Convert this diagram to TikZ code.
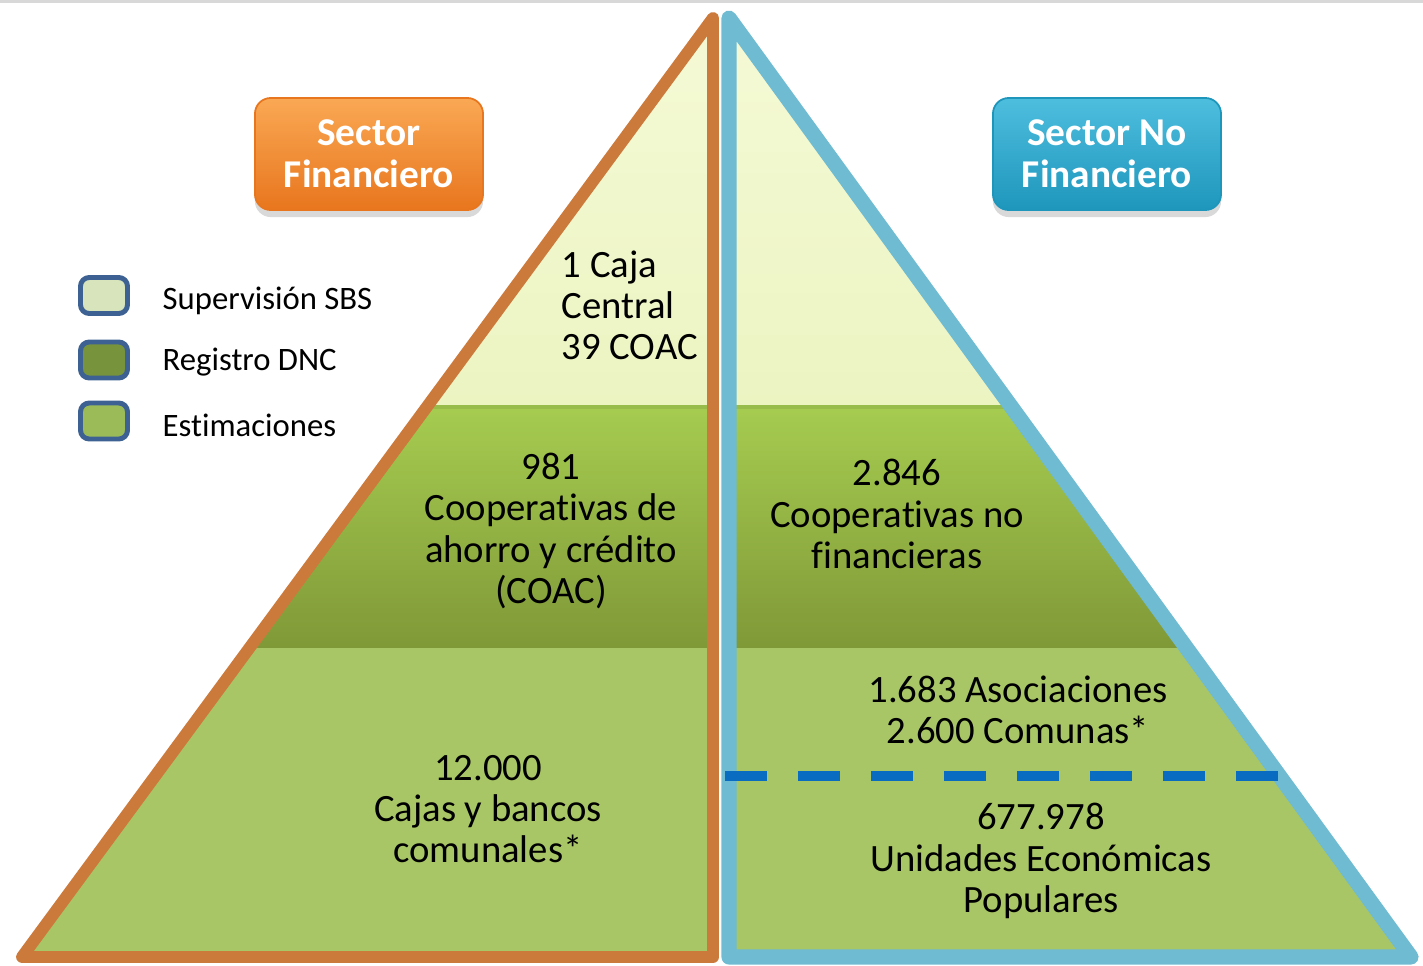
\documentclass[tikz,border=0pt]{standalone}
\usepackage{fontspec}
\setmainfont{Carlito}[Ligatures=CommonOff]
\usetikzlibrary{shadows}

\definecolor{topgray}{RGB}{216,216,216}
\definecolor{finorange}{RGB}{204,122,60}
\definecolor{nofinblue}{RGB}{110,187,210}
\definecolor{layertop}{RGB}{245,250,214}
\definecolor{layertoplo}{RGB}{236,244,194}
\definecolor{layermidtop}{RGB}{166,204,80}
\definecolor{layermidbot}{RGB}{128,153,56}
\definecolor{layerbot}{RGB}{169,198,102}
\definecolor{dashblue}{RGB}{10,108,192}
\definecolor{legendedge}{RGB}{60,97,146}
\definecolor{legendlight}{RGB}{216,228,188}
\definecolor{legenddark}{RGB}{119,147,60}
\definecolor{legendgreen}{RGB}{155,187,89}
\definecolor{orangehi}{RGB}{250,168,84}
\definecolor{orangelo}{RGB}{232,118,30}
\definecolor{bluehi}{RGB}{78,190,222}
\definecolor{bluelo}{RGB}{30,150,188}

\tikzset{
  pyrtext/.style={font=\fontsize{11}{11.7}\selectfont, align=center, inner sep=0pt},
  legtext/.style={font=\fontsize{9.3}{11}\selectfont, anchor=west, inner sep=0pt},
  legbox/.style={draw=legendedge, line width=1.4pt, rounded corners=2.5pt,
    minimum width=0.47cm, minimum height=0.36cm, inner sep=0pt},
  sectorbox/.style={rounded corners=4.5pt, minimum width=2.28cm, minimum height=1.12cm,
    inner sep=0pt, align=center, text=white, line width=0.5pt,
    font=\fontsize{11.2}{11.95}\selectfont\bfseries,
    drop shadow={shadow xshift=0pt, shadow yshift=-2pt, opacity=0.3}}
}

\begin{document}
\begin{tikzpicture}[line cap=round,line join=round,x=0.01cm,y=-0.01cm]
\useasboundingbox (0,0) rectangle (1423,966);
\fill[topgray] (0,0) rectangle (1423,3);
% sector financiero
\coordinate (fa) at (713,18);
\coordinate (fb) at (22,957);
\coordinate (fc) at (713,957);
\begin{scope}
\clip (fa)--(fb)--(fc)--cycle;
\shade[top color=layertop,bottom color=layertoplo] (0,0) rectangle (720,405);
\shade[top color=layermidtop,bottom color=layermidbot] (0,405) rectangle (720,648);
\fill[layerbot] (0,648) rectangle (720,966);
\fill[black,opacity=0.08] (0,405) rectangle (720,409);
\end{scope}
\draw[line width=3.4pt,color=finorange] (fa)--(fb)--(fc)--cycle;
% sector no financiero
\coordinate (na) at (729,18);
\coordinate (nb) at (729,957);
\coordinate (nc) at (1411,957);
\begin{scope}
\clip (na)--(nb)--(nc)--cycle;
\shade[top color=layertop,bottom color=layertoplo] (720,0) rectangle (1423,405);
\shade[top color=layermidtop,bottom color=layermidbot] (720,405) rectangle (1423,648);
\fill[layerbot] (720,648) rectangle (1423,966);
\fill[black,opacity=0.08] (720,405) rectangle (1423,409);
\end{scope}
\draw[line width=4.3pt,color=nofinblue] (na)--(nb)--(nc)--cycle;
\coordinate (dl) at (725,776);
\coordinate (dr) at (1278,776);
\draw[dashblue,line width=2.8pt,line cap=butt,dash pattern=on 11.95pt off 8.82pt] (dl)--(dr);
% sector boxes
\node[sectorbox,draw=orangelo,top color=orangehi,bottom color=orangelo] (fin) at (369,154) {Sector\\Financiero};
\node[sectorbox,draw=bluelo,top color=bluehi,bottom color=bluelo] (nofin) at (1107,154) {Sector No\\Financiero};
% legend
\node[legbox,fill=legendlight] (lsbs) at (104,295.5) {};
\node[legbox,fill=legenddark] (ldnc) at (104,360) {};
\node[legbox,fill=legendgreen] (lest) at (104,421) {};
\node[legtext] (tsbs) at (162,301) {Supervisión SBS};
\node[legtext] (tdnc) at (162,362) {Registro DNC};
\node[legtext] (test) at (162,425) {Estimaciones};
% pyramid texts
\node[pyrtext,align=left,anchor=west] (caja) at (561,305) {1 Caja\\Central\\39 COAC};
\node[pyrtext] (coac) at (551,531) {981\\Cooperativas de\\ahorro y crédito\\(COAC)};
\node[pyrtext] (cajas) at (488,809) {12.000\\Cajas y bancos\\comunales*};
\node[pyrtext] (coopnf) at (897,514) {2.846\\Cooperativas no\\financieras};
\node[pyrtext] (asoc) at (1018,710) {1.683 Asociaciones\\2.600 Comunas*};
\node[pyrtext] (upop) at (1041,861) {677.978\\Unidades Económicas\\Populares};
\end{tikzpicture}
\end{document}
